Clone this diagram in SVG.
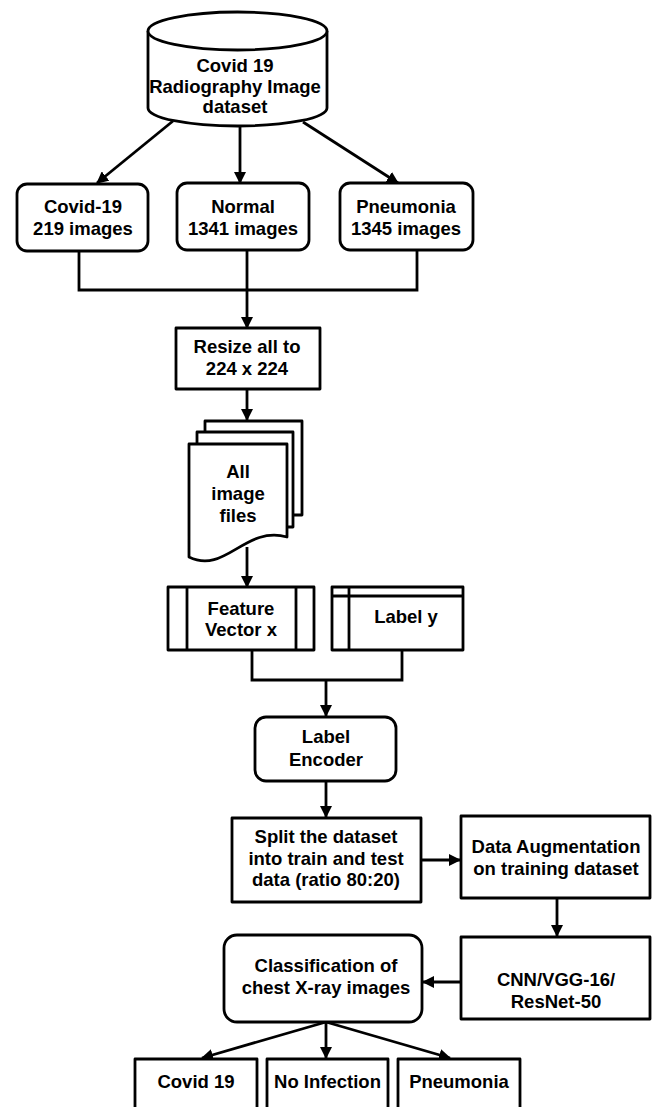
<svg xmlns="http://www.w3.org/2000/svg" width="655" height="1107" viewBox="0 0 655 1107">
<defs>
<marker id="ah" viewBox="0 0 12 12" refX="11" refY="6" markerWidth="12" markerHeight="12" markerUnits="userSpaceOnUse" orient="auto">
<path d="M0,0 L12,6 L0,12 Z" fill="#000"/>
</marker>
<style>
.s{fill:#fff;stroke:#000;stroke-width:2.8;stroke-linejoin:round}
.l{fill:none;stroke:#000;stroke-width:2.8}
.a{fill:none;stroke:#000;stroke-width:2.8;marker-end:url(#ah)}
text{font-family:"Liberation Sans",Arial,sans-serif;font-weight:bold;font-size:18.5px;fill:#000;text-anchor:middle}
</style>
</defs>
<rect width="655" height="1107" fill="#fff"/>

<g id="connectors">
<line class="a" x1="173" y1="121" x2="97" y2="183"/>
<line class="a" x1="240" y1="127" x2="240" y2="183"/>
<line class="a" x1="303" y1="122" x2="398" y2="183"/>
<polyline class="l" points="79,251 79,290 417,290 417,250"/>
<line class="l" x1="247" y1="250" x2="247" y2="290"/>
<line class="a" x1="247" y1="290" x2="247" y2="328"/>
<line class="a" x1="247" y1="389" x2="247" y2="420"/>
<line class="a" x1="247" y1="547" x2="247" y2="587"/>
<polyline class="l" points="252,650 252,680 402,680 402,650"/>
<line class="a" x1="326" y1="680" x2="326" y2="716"/>
<line class="a" x1="326" y1="781" x2="326" y2="817"/>
<line class="a" x1="421" y1="860" x2="460" y2="860"/>
<line class="a" x1="557" y1="898" x2="557" y2="936"/>
<line class="a" x1="461" y1="982" x2="423" y2="982"/>
<line class="a" x1="326" y1="1022" x2="202" y2="1058"/>
<line class="a" x1="326" y1="1022" x2="326" y2="1058"/>
<line class="a" x1="326" y1="1022" x2="450" y2="1058"/>
</g>

<g id="dataset">
<path class="s" d="M148,31 V108 A89.5,18 0 0 0 327,108 V31"/>
<ellipse class="s" cx="237.5" cy="31" rx="89.5" ry="19"/>
<text x="235" y="72">Covid 19</text>
<text x="235" y="93">Radiography Image</text>
<text x="235" y="113">dataset</text>
</g>

<g id="covid">
<rect class="s" x="17" y="184" width="131" height="67" rx="10"/>
<text x="83" y="213">Covid-19</text>
<text x="83" y="235">219 images</text>
</g>
<g id="normal">
<rect class="s" x="177" y="183" width="132" height="67" rx="10"/>
<text x="243" y="213">Normal</text>
<text x="243" y="235">1341 images</text>
</g>
<g id="pneumonia">
<rect class="s" x="340" y="183" width="133" height="67" rx="10"/>
<text x="406" y="213">Pneumonia</text>
<text x="406" y="235">1345 images</text>
</g>

<g id="resize">
<rect class="s" x="176" y="328" width="144" height="61"/>
<text x="247" y="353">Resize all to</text>
<text x="247" y="375">224 x 224</text>
</g>

<g id="images">
<rect class="s" x="205" y="421" width="97" height="94"/>
<rect class="s" x="197" y="432" width="96" height="95"/>
<path class="s" d="M189,444 H287 V537 C245,525 225,575 189,557 Z"/>
<text x="238" y="478">All</text>
<text x="238" y="500">image</text>
<text x="238" y="522">files</text>
</g>

<g id="feature">
<rect class="s" x="168" y="587" width="146" height="63"/>
<line class="l" x1="187" y1="587" x2="187" y2="650"/>
<line class="l" x1="296" y1="587" x2="296" y2="650"/>
<text x="241" y="615">Feature</text>
<text x="241" y="636">Vector x</text>
</g>

<g id="labely">
<rect class="s" x="332" y="587" width="131" height="63"/>
<line class="l" x1="349" y1="587" x2="349" y2="650"/>
<line class="l" x1="332" y1="596" x2="463" y2="596"/>
<text x="406" y="623">Label y</text>
</g>

<g id="encoder">
<rect class="s" x="255" y="717" width="141" height="64" rx="11"/>
<text x="326" y="743">Label</text>
<text x="326" y="766">Encoder</text>
</g>

<g id="split">
<rect class="s" x="232" y="818" width="189" height="84"/>
<text x="326" y="843">Split the dataset</text>
<text x="326" y="865">into train and test</text>
<text x="326" y="886">data (ratio 80:20)</text>
</g>

<g id="augment">
<rect class="s" x="461" y="816" width="189" height="82"/>
<text x="556" y="853">Data Augmentation</text>
<text x="556" y="875">on training dataset</text>
</g>

<g id="cnn">
<rect class="s" x="461" y="937" width="189" height="82"/>
<text x="556" y="986">CNN/VGG-16/</text>
<text x="556" y="1008">ResNet-50</text>
</g>

<g id="classification">
<rect class="s" x="224" y="935" width="198" height="87" rx="13"/>
<text x="326" y="972">Classification of</text>
<text x="326" y="994">chest X-ray images</text>
</g>

<g id="out-covid">
<rect class="s" x="135" y="1059" width="122" height="60"/>
<text x="196" y="1088">Covid 19</text>
</g>
<g id="out-none">
<rect class="s" x="267" y="1059" width="121" height="60"/>
<text x="327.5" y="1088">No Infection</text>
</g>
<g id="out-pneu">
<rect class="s" x="398" y="1059" width="122" height="60"/>
<text x="459" y="1088">Pneumonia</text>
</g>
</svg>
